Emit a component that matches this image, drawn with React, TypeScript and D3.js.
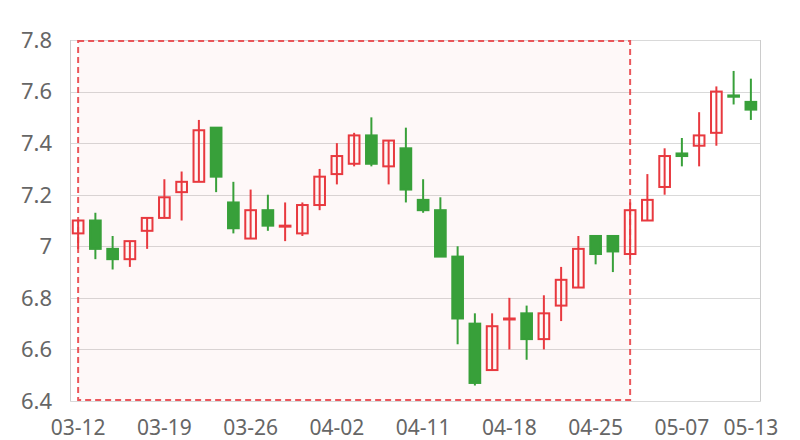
import * as d3 from 'd3'
import React, { useEffect, useRef } from 'react'

// trading days, one per candle
const dates = [
  '03-12', '03-13', '03-14', '03-15', '03-18', '03-19', '03-20', '03-21', '03-22', '03-25',
  '03-26', '03-27', '03-28', '03-29', '04-01', '04-02', '04-03', '04-04', '04-08', '04-09',
  '04-11', '04-12', '04-13', '04-16', '04-17', '04-18', '04-19', '04-20', '04-23', '04-24',
  '04-25', '04-26', '04-27', '05-02', '05-03', '05-07', '05-08', '05-09', '05-10', '05-13',
]
const opens = [
  7.05, 7.1, 6.99, 6.95, 7.06, 7.11, 7.21, 7.25, 7.46, 7.17,
  7.03, 7.14, 7.08, 7.05, 7.16, 7.28, 7.32, 7.43, 7.31, 7.38,
  7.18, 7.14, 6.96, 6.7, 6.52, 6.72, 6.74, 6.64, 6.77, 6.84,
  7.04, 7.04, 6.97, 7.1, 7.23, 7.36, 7.39, 7.44, 7.585, 7.56,
]
const closes = [
  7.1, 6.99, 6.95, 7.02, 7.11, 7.19, 7.25, 7.45, 7.27, 7.07,
  7.14, 7.08, 7.08, 7.16, 7.27, 7.35, 7.43, 7.32, 7.41, 7.22,
  7.14, 6.96, 6.72, 6.47, 6.69, 6.72, 6.64, 6.74, 6.87, 6.99,
  6.97, 6.98, 7.14, 7.18, 7.35, 7.35, 7.43, 7.6, 7.58, 7.53,
]
const highs = [
  7.1, 7.13, 7.04, 7.02, 7.11, 7.26, 7.29, 7.49, 7.46, 7.25,
  7.22, 7.2, 7.17, 7.17, 7.3, 7.4, 7.44, 7.5, 7.41, 7.46,
  7.26, 7.19, 7.0, 6.74, 6.74, 6.8, 6.77, 6.81, 6.92, 7.04,
  7.04, 7.04, 7.17, 7.28, 7.38, 7.42, 7.52, 7.62, 7.68, 7.65,
]
const lows = [
  6.99, 6.95, 6.91, 6.92, 6.99, 7.11, 7.1, 7.25, 7.21, 7.05,
  7.03, 7.06, 7.02, 7.04, 7.14, 7.24, 7.31, 7.31, 7.24, 7.17,
  7.13, 6.96, 6.62, 6.46, 6.52, 6.6, 6.56, 6.6, 6.71, 6.84,
  6.93, 6.9, 6.95, 7.1, 7.2, 7.31, 7.31, 7.39, 7.55, 7.49,
]
const yTicks = [6.4, 6.6, 6.8, 7, 7.2, 7.4, 7.6, 7.8]
const xLabelIdx = [0, 5, 10, 15, 20, 25, 30, 35, 39]
// highlighted span (start / end date)
const markStart = '03-12'
const markEnd = '04-27'

const W = 800
const H = 440
const UP = '#e8393f'
const DOWN = '#38a03a'
const FONT = "'Noto Sans', 'DejaVu Sans', sans-serif"

export default function App() {
  const svgRef = useRef<SVGSVGElement | null>(null)

  useEffect(() => {
    const svg = d3.select(svgRef.current)
    svg.selectAll('*').remove()

    const left = 70.5
    const right = 760.5
    const top = 40
    const bottom = 401

    const x = d3.scaleBand<string>().domain(dates).range([left, right]).paddingInner(0).paddingOuter(0)
    const cx = (d: string) => (x(d) ?? 0) + x.bandwidth() / 2 - 1
    const y = d3.scaleLinear().domain([6.4, 7.8]).range([bottom, top])
    const bodyW = x.bandwidth() * 0.62

    // grid
    svg
      .append('g')
      .selectAll('line')
      .data(yTicks)
      .enter()
      .append('line')
      .attr('x1', left)
      .attr('x2', right)
      .attr('y1', (d) => Math.round(y(d)) + 0.5)
      .attr('y2', (d) => Math.round(y(d)) + 0.5)
      .attr('stroke', '#d9d9d9')
      .attr('stroke-width', 1)

    svg
      .append('line')
      .attr('x1', left)
      .attr('x2', left)
      .attr('y1', top)
      .attr('y2', bottom + 0.5)
      .attr('stroke', '#cccccc')
    svg
      .append('line')
      .attr('x1', right)
      .attr('x2', right)
      .attr('y1', top)
      .attr('y2', bottom + 0.5)
      .attr('stroke', '#cccccc')

    // y labels
    svg
      .append('g')
      .selectAll('text')
      .data(yTicks)
      .enter()
      .append('text')
      .attr('x', 52)
      .attr('y', (d) => y(d))
      .attr('dy', '0.36em')
      .attr('text-anchor', 'end')
      .attr('font-family', FONT)
      .attr('font-size', 22)
      .attr('fill', '#666666')
      .text((d) => d3.format('~g')(d))

    // x labels
    svg
      .append('g')
      .selectAll('text')
      .data(xLabelIdx)
      .enter()
      .append('text')
      .attr('x', (i) => cx(dates[i]))
      .attr('y', 435)
      .attr('text-anchor', 'middle')
      .attr('font-family', FONT)
      .attr('font-size', 21)
      .attr('fill', '#666666')
      .text((i) => dates[i])

    // highlighted area
    const mx0 = cx(markStart)
    const mx1 = cx(markEnd)
    svg
      .append('rect')
      .attr('x', mx0)
      .attr('y', y(7.8) + 1)
      .attr('width', mx1 - mx0)
      .attr('height', y(6.4) - y(7.8) - 2)
      .attr('fill', '#e8393f')
      .attr('fill-opacity', 0.035)
      .attr('stroke', '#e8393f')
      .attr('stroke-opacity', 0.85)
      .attr('stroke-width', 2)
      .attr('stroke-dasharray', '6,4')

    // candles
    const data = dates.map((d, i) => ({
      date: d,
      open: opens[i],
      close: closes[i],
      high: highs[i],
      low: lows[i],
    }))

    const g = svg
      .append('g')
      .selectAll('g')
      .data(data)
      .enter()
      .append('g')
      .attr('transform', (d) => `translate(${cx(d.date)},0)`)

    g.append('line')
      .attr('x1', 0)
      .attr('x2', 0)
      .attr('y1', (d) => y(d.high))
      .attr('y2', (d) => y(d.low))
      .attr('stroke', (d) => (d.close >= d.open ? UP : DOWN))
      .attr('stroke-width', 2)

    g.append('rect')
      .attr('x', -bodyW / 2)
      .attr('y', (d) => y(Math.max(d.open, d.close)))
      .attr('width', bodyW)
      .attr('height', (d) => Math.max(1, Math.abs(y(d.open) - y(d.close))))
      .attr('fill', (d) => (d.close >= d.open ? 'none' : DOWN))
      .attr('stroke', (d) => (d.close >= d.open ? UP : DOWN))
      .attr('stroke-width', 2)
  }, [])

  return (
    <svg
      ref={svgRef}
      width={W}
      height={H}
      style={{ position: 'absolute', left: 0, top: 0, display: 'block', background: '#fff' }}
    />
  )
}
